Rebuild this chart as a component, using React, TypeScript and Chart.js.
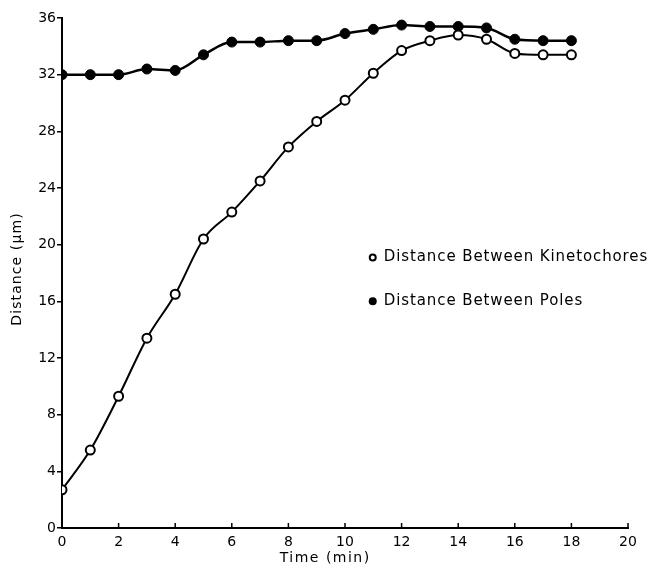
import React, { useEffect, useRef } from 'react';
import { Chart, registerables } from 'chart.js';

Chart.register(...registerables);

const times = [0, 1, 2, 3, 4, 5, 6, 7, 8, 9, 10, 11, 12, 13, 14, 15, 16, 17, 18];
const kinetochores = [2.7, 5.5, 9.3, 13.4, 16.5, 20.4, 22.3, 24.5, 26.9, 28.7, 30.2, 32.1, 33.7, 34.4, 34.8, 34.5, 33.5, 33.4, 33.4];
const poles = [32.0, 32.0, 32.0, 32.4, 32.3, 33.4, 34.3, 34.3, 34.4, 34.4, 34.9, 35.2, 35.5, 35.4, 35.4, 35.3, 34.5, 34.4, 34.4];
const seriesLabels = ['Distance Between Kinetochores', 'Distance Between Poles'];
const xTitle = 'Time (min)';
const yTitle = 'Distance (\u00b5m)';
const xMin = 0, xMax = 20, xStep = 2;
const yMin = 0, yMax = 36, yStep = 4;

const FONT = "'DejaVu Sans', sans-serif";

const innerXTicks = {
  id: 'innerXTicks',
  afterDraw(chart: any) {
    const { ctx, chartArea, scales } = chart;
    const xs = scales.x;
    ctx.save();
    ctx.strokeStyle = '#000';
    ctx.lineWidth = 1.5;
    xs.ticks.forEach((t: any) => {
      const px = xs.getPixelForValue(t.value);
      ctx.beginPath();
      ctx.moveTo(px, chartArea.bottom);
      ctx.lineTo(px, chartArea.bottom - 5);
      ctx.stroke();
    });
    ctx.restore();
  },
};

const axisTitles = {
  id: 'axisTitles',
  afterDraw(chart: any) {
    const { ctx, chartArea, scales } = chart;
    const xs = scales.x;
    ctx.save();
    ctx.fillStyle = '#000';
    ctx.textAlign = 'center';
    ctx.textBaseline = 'middle';
    (ctx as any).letterSpacing = '1.5px';
    ctx.font = `14px ${FONT}`;
    ctx.fillText(xTitle, xs.getPixelForValue(9.3), chartArea.bottom + 30);
    (ctx as any).letterSpacing = '1.1px';
    ctx.translate(chartArea.left - 45, (chartArea.top + chartArea.bottom) / 2 - 4);
    ctx.rotate(-Math.PI / 2);
    ctx.fillText(yTitle, 0, 0);
    ctx.restore();
  },
};

const inPlotLegend = {
  id: 'inPlotLegend',
  afterDraw(chart: any) {
    const { ctx, scales } = chart;
    const xs = scales.x;
    const ys = scales.y;
    const mx = xs.getPixelForValue(10.98);
    const tx = mx + 11;
    const rows = [19.1, 16.0];
    ctx.save();
    ctx.font = `15px ${FONT}`;
    (ctx as any).letterSpacing = '0.9px';
    ctx.textBaseline = 'middle';
    ctx.textAlign = 'left';
    rows.forEach((v, i) => {
      const py = ys.getPixelForValue(v);
      ctx.beginPath();
      ctx.arc(mx, py, i === 0 ? 3 : 4, 0, Math.PI * 2);
      if (i === 0) {
        ctx.fillStyle = '#fff';
        ctx.fill();
        ctx.lineWidth = 2;
        ctx.strokeStyle = '#000';
        ctx.stroke();
      } else {
        ctx.fillStyle = '#000';
        ctx.fill();
      }
      ctx.fillStyle = '#000';
      ctx.fillText(seriesLabels[i], tx, py);
    });
    ctx.restore();
  },
};

export default function App() {
  const ref = useRef<HTMLCanvasElement | null>(null);
  useEffect(() => {
    if (!ref.current) return;
    const chart = new Chart(ref.current, {
      type: 'line',
      data: {
        datasets: [
          {
            label: seriesLabels[0],
            data: times.map((t, i) => ({ x: t, y: kinetochores[i] })),
            borderColor: '#000',
            borderWidth: 2,
            pointRadius: 4.5,
            pointBackgroundColor: '#fff',
            pointBorderColor: '#000',
            pointBorderWidth: 2,
            cubicInterpolationMode: 'monotone',
            fill: false,
          },
          {
            label: seriesLabels[1],
            data: times.map((t, i) => ({ x: t, y: poles[i] })),
            borderColor: '#000',
            borderWidth: 2.5,
            pointRadius: 5,
            pointBackgroundColor: '#000',
            pointBorderColor: '#000',
            pointBorderWidth: 1,
            cubicInterpolationMode: 'monotone',
            fill: false,
          },
        ],
      },
      options: {
        animation: false,
        responsive: true,
        maintainAspectRatio: false,
        layout: { padding: { top: 18, right: 22, left: 0, bottom: 0 } },
        plugins: {
          legend: { display: false },
          tooltip: { enabled: false },
        },
        scales: {
          x: {
            type: 'linear',
            min: xMin,
            max: xMax,
            afterFit(scale: any) { scale.height = 37; },
            ticks: { stepSize: xStep, color: '#000', font: { family: FONT, size: 14 }, padding: 6, maxRotation: 0 },
            grid: { display: true, drawOnChartArea: false, drawTicks: false },
            border: { display: true, color: '#000', width: 2 },
            title: { display: false },
          },
          y: {
            type: 'linear',
            min: yMin,
            max: yMax,
            afterFit(scale: any) { scale.width = 62; },
            ticks: { stepSize: yStep, color: '#000', font: { family: FONT, size: 14 }, padding: 1 },
            grid: { display: true, drawOnChartArea: false, drawTicks: true, tickLength: 5, color: '#000', lineWidth: 1.5 },
            border: { display: true, color: '#000', width: 2 },
            title: { display: false },
          },
        },
      },
      plugins: [innerXTicks, axisTitles, inPlotLegend],
    } as any);
    return () => chart.destroy();
  }, []);
  return (
    <div style={{ position: 'fixed', left: 0, top: 0, width: 650, height: 565, background: '#fff' }}>
      <canvas ref={ref} />
    </div>
  );
}
